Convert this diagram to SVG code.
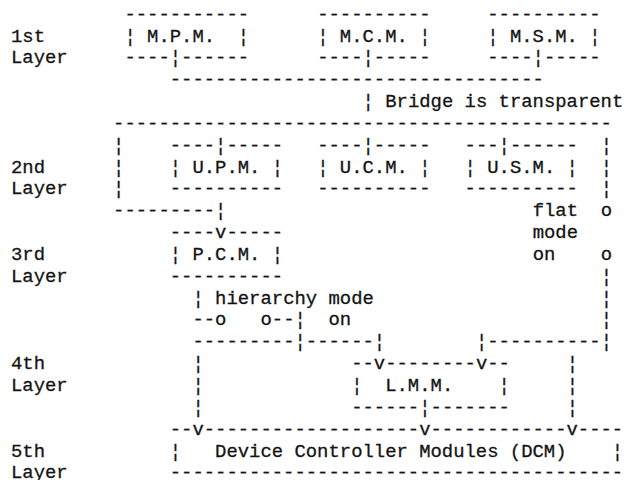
<svg xmlns="http://www.w3.org/2000/svg" width="632" height="480" viewBox="0 0 632 480" xml:space="preserve">
<style>
text{font-family:"Liberation Mono","Courier New",monospace;font-size:18.9px;fill:#141414;stroke:#141414;stroke-width:0.3px;white-space:pre}
</style>
<rect width="632" height="480" fill="#ffffff"/>
<g id="layer-labels">
<text x="11" y="41.54">1st</text><text x="11" y="63.38">Layer</text>
<text x="11" y="172.58">2nd</text><text x="11" y="194.42">Layer</text>
<text x="11" y="259.94">3rd</text><text x="11" y="281.78">Layer</text>
<text x="11" y="369.14">4th</text><text x="11" y="390.98">Layer</text>
<text x="11" y="456.5">5th</text><text x="11" y="478.3">Layer</text>
</g>
<g id="node-mpm">
<text x="124.4" y="19.7">-----------</text>
<text x="124.4" y="41.54">¦ M.P.M.  ¦</text>
<text x="124.4" y="63.38">----¦------</text>
</g>
<g id="node-mcm">
<text x="317.18" y="19.7">----------</text>
<text x="317.18" y="41.54">¦ M.C.M. ¦</text>
<text x="317.18" y="63.38">----¦-----</text>
</g>
<g id="node-msm">
<text x="487.28" y="19.7">----------</text>
<text x="487.28" y="41.54">¦ M.S.M. ¦</text>
<text x="487.28" y="63.38">----¦-----</text>
</g>
<g id="node-upm">
<text x="169.76" y="150.74">----¦-----</text>
<text x="169.76" y="172.58">¦ U.P.M. ¦</text>
<text x="169.76" y="194.42">----------</text>
</g>
<g id="node-ucm">
<text x="317.18" y="150.74">----¦-----</text>
<text x="317.18" y="172.58">¦ U.C.M. ¦</text>
<text x="317.18" y="194.42">----------</text>
</g>
<g id="node-usm">
<text x="464.6" y="150.74">---¦------</text>
<text x="464.6" y="172.58">¦ U.S.M. ¦</text>
<text x="464.6" y="194.42">----------</text>
</g>
<g id="node-pcm">
<text x="169.76" y="238.1">----v-----</text>
<text x="169.76" y="259.94">¦ P.C.M. ¦</text>
<text x="169.76" y="281.78">----------</text>
</g>
<g id="node-lmm">
<text x="351.2" y="369.14">--v--------v--</text>
<text x="351.2" y="390.98">¦  L.M.M.    ¦</text>
<text x="351.2" y="412.82">------¦-------</text>
</g>
<g id="node-dcm">
<text x="169.76" y="434.66">--v-------------------v------------v----</text>
<text x="169.76" y="456.5">¦   Device Controller Modules (DCM)    ¦</text>
<text x="169.76" y="478.3">----------------------------------------</text>
</g>
<g id="connectors">
<text x="169.76" y="85.22">---------------------------------</text>
<text x="362.54" y="107.06">¦ Bridge is transparent</text>
<text x="113.06" y="128.9">--------------------------------------------</text>
<text x="113.06" y="150.74">¦</text><text x="600.68" y="150.74">¦</text>
<text x="113.06" y="172.58">¦</text><text x="600.68" y="172.58">¦</text>
<text x="113.06" y="194.42">¦</text><text x="600.68" y="194.42">¦</text>
<text x="113.06" y="216.26">---------¦</text>
<text x="532.64" y="216.26">flat</text><text x="600.68" y="216.26">o</text>
<text x="532.64" y="238.1">mode</text>
<text x="532.64" y="259.94">on</text><text x="600.68" y="259.94">o</text>
<text x="600.68" y="281.78">¦</text>
<text x="192.44" y="303.62">¦ hierarchy mode</text><text x="600.68" y="303.62">¦</text>
<text x="192.44" y="325.46">--o   o--¦  on</text><text x="600.68" y="325.46">¦</text>
<text x="192.44" y="347.3">---------¦------¦</text>
<text x="475.94" y="347.3">¦----------¦</text>
<text x="192.44" y="369.14">¦</text><text x="566.66" y="369.14">¦</text>
<text x="192.44" y="390.98">¦</text><text x="566.66" y="390.98">¦</text>
<text x="192.44" y="412.82">¦</text><text x="566.66" y="412.82">¦</text>
</g>
</svg>
